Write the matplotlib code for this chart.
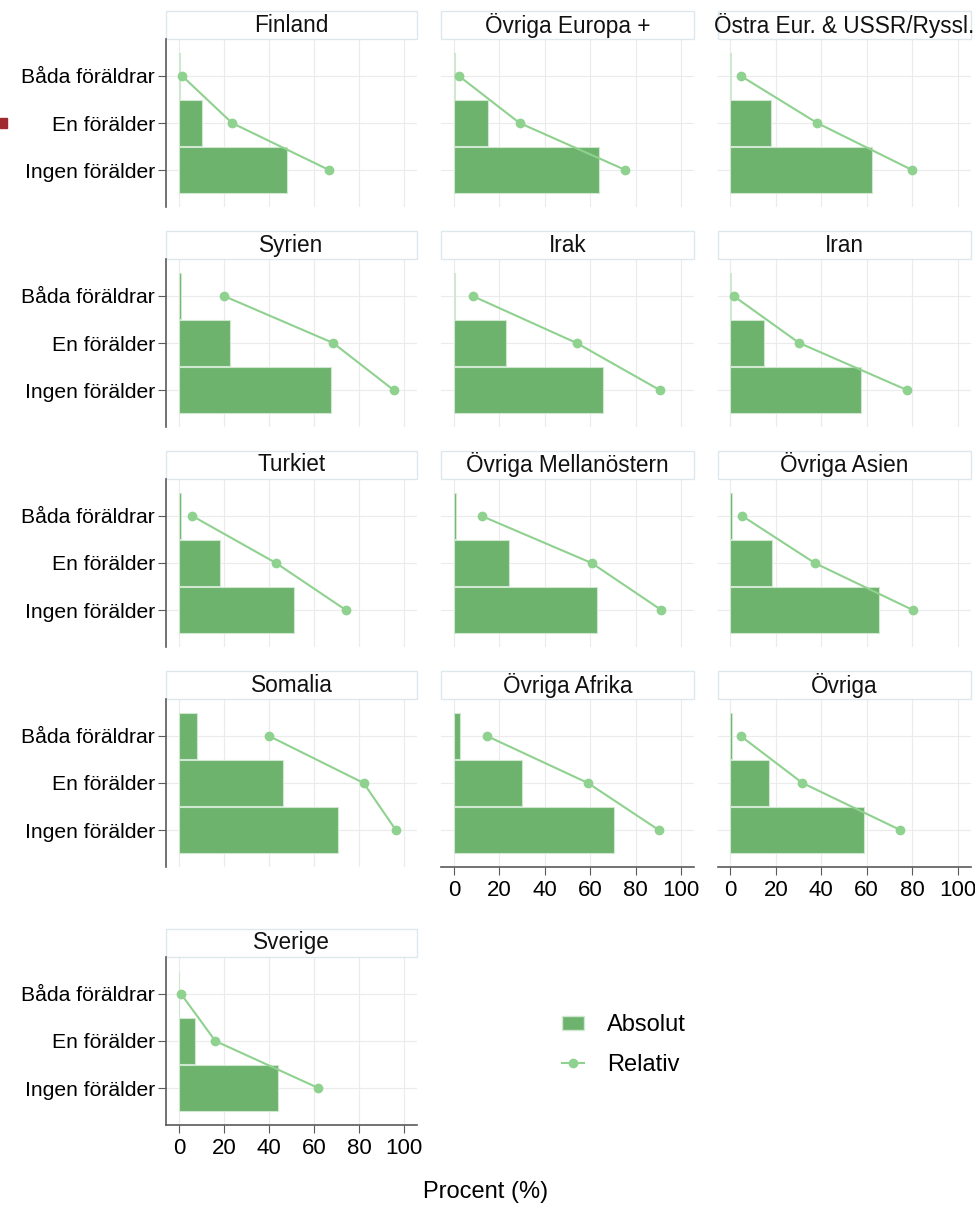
import matplotlib.pyplot as plt
from matplotlib.patches import Rectangle, Patch
from matplotlib.lines import Line2D

plt.rcParams['font.family'] = ['Liberation Sans', 'DejaVu Sans']

categories = ["Båda föräldrar", "En förälder", "Ingen förälder"]
countries = ["Finland", "Övriga Europa +", "Östra Eur. & USSR/Ryssl.",
             "Syrien", "Irak", "Iran",
             "Turkiet", "Övriga Mellanöstern", "Övriga Asien",
             "Somalia", "Övriga Afrika", "Övriga",
             "Sverige"]
absolut = [[0.5, 10.2, 48.0], [0.5, 15.1, 63.8], [0.4, 17.7, 62.3],
           [1.0, 22.8, 67.6], [0.5, 22.8, 65.7], [0.3, 14.8, 57.7],
           [1.0, 18.2, 51.3], [1.0, 24.4, 62.9], [0.5, 18.5, 65.3],
           [8.0, 46.1, 70.5], [2.8, 29.8, 70.5], [0.9, 16.9, 58.9],
           [0.2, 7.3, 44.0]]
relativ = [[1.5, 23.6, 66.7], [2.2, 28.9, 75.5], [4.6, 38.2, 80.0],
           [20.0, 68.5, 95.3], [8.2, 54.0, 90.6], [1.4, 30.3, 77.7],
           [6.0, 43.1, 74.1], [12.2, 60.6, 91.3], [5.2, 37.1, 80.3],
           [40.0, 82.0, 96.3], [14.5, 59.0, 90.2], [4.5, 31.7, 74.8],
           [1.0, 16.2, 61.9]]
xticks = [0, 20, 40, 60, 80, 100]

W, H = 975, 1205
bar_col = '#6db36e'
line_col = '#8fd18f'
axis_col = '#5a5a5a'
grid_col = '#ebebeb'

fig = plt.figure(figsize=(W / 100, H / 100), dpi=100)

# pixel layout of the panels
col_left = [166, 441, 717.5]
col_width = [251, 253, 253]
row_top = [39, 259, 479, 699, 957]
plot_h = 168
strip_h = 28

ypos = [2, 1, 0]

for i, name in enumerate(countries):
    r, c = divmod(i, 3)
    x0 = col_left[c] / W
    y0 = 1 - (row_top[r] + plot_h) / H
    ax = fig.add_axes([x0, y0, col_width[c] / W, plot_h / H])

    ax.barh(ypos, absolut[i], height=0.96, color=bar_col,
            edgecolor='#cfe8cf', linewidth=0.8, zorder=2)
    ax.plot(relativ[i], ypos, color=line_col, lw=1.5, marker='o',
            markersize=6, zorder=3)

    ax.set_xlim(-5.7, 105.7)
    ax.set_ylim(-0.787, 2.787)
    ax.set_xticks(xticks)
    ax.set_yticks(ypos)
    ax.set_yticklabels(categories)
    ax.grid(True, color=grid_col, lw=0.8, zorder=0)
    ax.set_axisbelow(True)

    for s in ax.spines.values():
        s.set_visible(False)

    # left axis only for first column
    if c == 0:
        ax.spines['left'].set_visible(True)
        ax.spines['left'].set_color(axis_col)
        ax.spines['left'].set_linewidth(1.2)
        ax.tick_params(axis='y', length=6, color=axis_col, labelsize=15.2,
                       pad=2)
    else:
        ax.tick_params(axis='y', length=0, labelleft=False)

    # bottom axis where a panel has nothing below it
    bottom = (r == 4) or (r == 3 and c > 0)
    if bottom:
        ax.spines['bottom'].set_visible(True)
        ax.spines['bottom'].set_color(axis_col)
        ax.spines['bottom'].set_linewidth(1.2)
        ax.tick_params(axis='x', length=6, color=axis_col, labelsize=16,
                       pad=3)
    else:
        ax.tick_params(axis='x', length=0, labelbottom=False)

    # strip title
    sh = strip_h / plot_h
    ax.add_patch(Rectangle((0, 1), 1, sh, transform=ax.transAxes,
                           facecolor='white', edgecolor='#dce8ee',
                           lw=1.0, clip_on=False))
    ax.text(0.5, 1 + sh / 2, name, transform=ax.transAxes, ha='center',
            va='center', fontsize=16.3, color='#111111')

fig.text(486 / W, 1 - 1192 / H, "Procent (%)", ha='center', va='center',
         fontsize=17)

handles = [Patch(facecolor=bar_col, edgecolor='#cfe8cf'),
           Line2D([], [], color=line_col, lw=1.5, marker='o', markersize=6)]
fig.legend(handles, ["Absolut", "Relativ"], loc='center left',
           bbox_to_anchor=(562 / W, 1 - 1045 / H), frameon=False,
           fontsize=17, handlelength=0.95, handleheight=0.55,
           handletextpad=0.95, labelspacing=0.75, borderpad=0,
           borderaxespad=0)

# small marker at the left edge
fig.patches.append(Rectangle((0, 1 - 128 / H), 7 / W, 10 / H,
                             transform=fig.transFigure, color='#a02a2e'))

fig.savefig("out.png", dpi=100)
